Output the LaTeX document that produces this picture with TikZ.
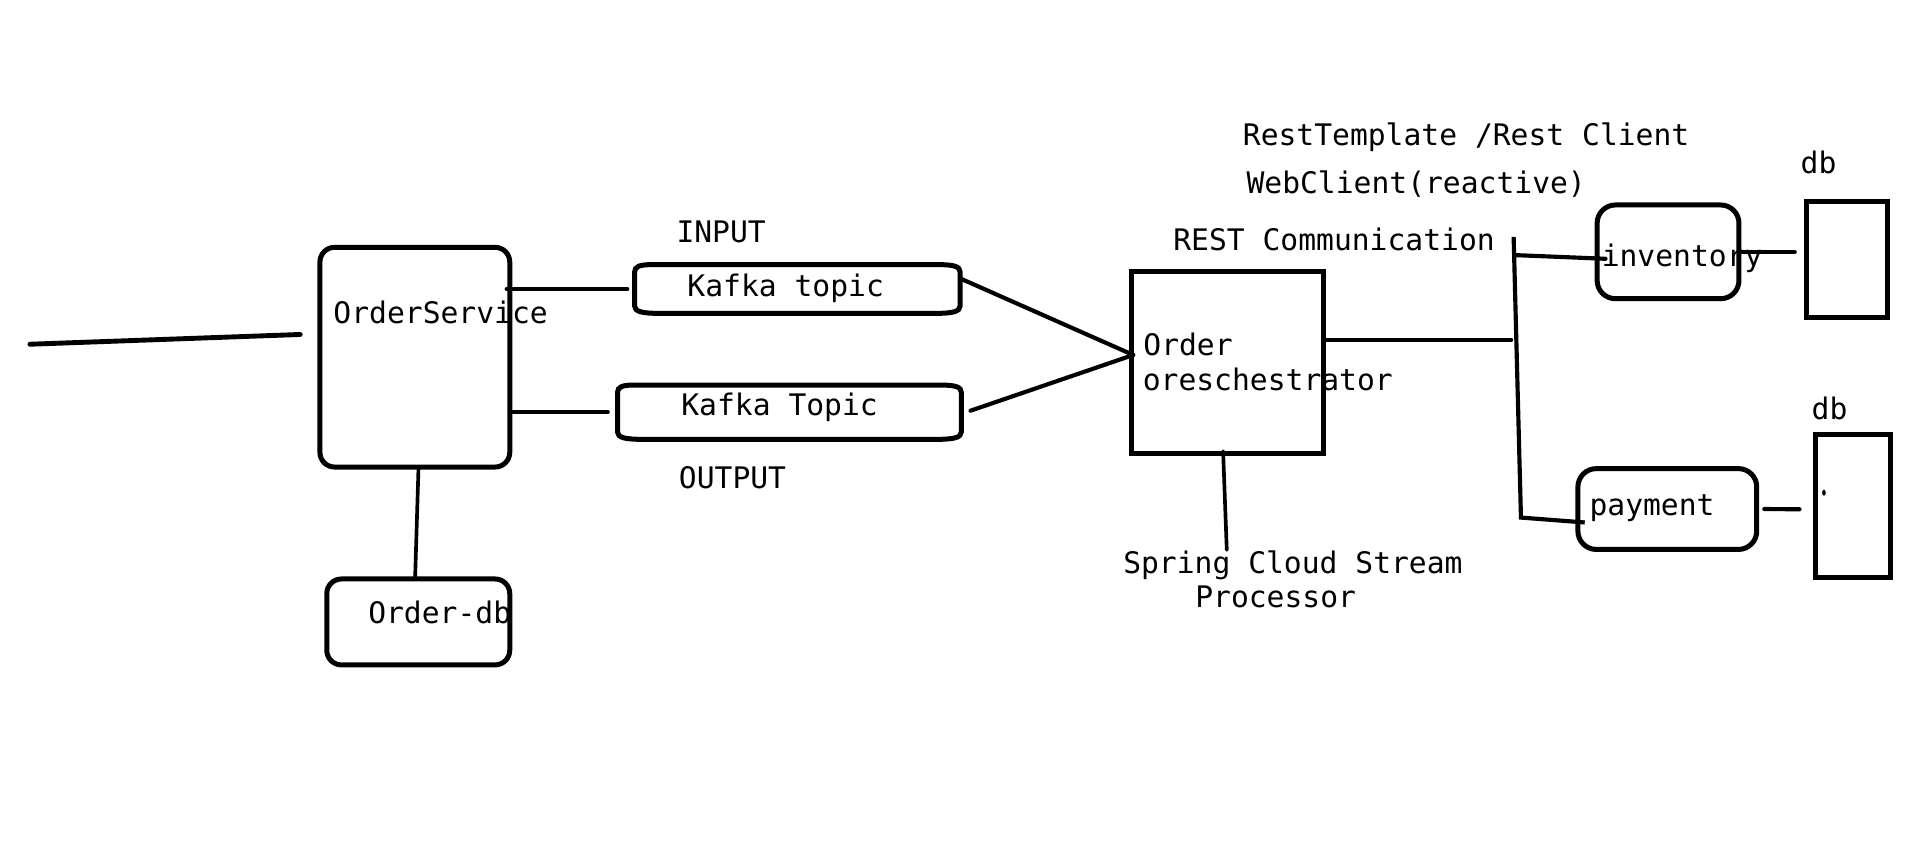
\documentclass[tikz,border=0pt]{standalone}
\usepackage{fontspec}
\newfontfamily\monofont{DejaVu Sans Mono}
\usetikzlibrary{calc}
\newcommand{\kafkaoutline}[1]{%
  \draw[line width=4.1pt]
    ([yshift=-6pt]#1.north west) .. controls ([yshift=-1.5pt]#1.north west) and ([xshift=4pt]#1.north west) .. ([xshift=14pt]#1.north west)
    -- ([xshift=-18pt]#1.north east) .. controls ([xshift=-5pt]#1.north east) and ([yshift=-1.5pt]#1.north east) .. ([yshift=-6pt]#1.north east)
    -- ([yshift=6pt]#1.south east) .. controls ([yshift=1.5pt]#1.south east) and ([xshift=-6pt]#1.south east) .. ([xshift=-20pt]#1.south east)
    -- ([xshift=20pt]#1.south west) .. controls ([xshift=6pt]#1.south west) and ([yshift=1.5pt]#1.south west) .. ([yshift=6pt]#1.south west)
    -- cycle;}
\begin{document}
\begin{tikzpicture}[x=1pt,y=-1pt,
  box/.style={draw, line width=4.1pt, outer sep=0pt, inner sep=0pt},
  rbox/.style={box, rounded corners=#1},
  rbox/.default=12pt,
  hidden/.style={outer sep=0pt, inner sep=0pt},
  txt/.style={font=\monofont\fontsize{24.3}{29}\selectfont, inner sep=0pt, anchor=base west},
  wire/.style={line width=3.4pt, line cap=round},
  thinwire/.style={line width=3pt, line cap=round}]
\fill[white] (0,0) rectangle (1568,705.3);
\useasboundingbox (0,0) rectangle (1568,705.3);

% boxes
\node[rbox, minimum width=155.5pt, minimum height=180pt] (osvc) at (339.85,292.6) {};
\node[rbox, minimum width=149.9pt, minimum height=70.4pt] (odb) at (342.65,509.5) {};
\node[hidden, minimum width=266.6pt, minimum height=39.9pt] (k1) at (653.2,236.75) {};
\kafkaoutline{k1}
\node[hidden, minimum width=281.6pt, minimum height=44.5pt] (k2) at (646.7,337.65) {};
\kafkaoutline{k2}
\node[box, minimum width=157.2pt, minimum height=149.2pt] (orch) at (1005.3,297) {};
\node[rbox=15pt, minimum width=116.2pt, minimum height=76.8pt] (inv) at (1366.5,206.3) {};
\node[rbox=15pt, minimum width=146.5pt, minimum height=66.2pt] (pay) at (1365.9,417) {};
\node[box, minimum width=66.2pt, minimum height=95.2pt] (db1) at (1513,212.5) {};
\node[box, minimum width=61.2pt, minimum height=117.2pt] (db2) at (1518,414.5) {};

% texts
\node[txt] (tRest) at (1018,119) {RestTemplate /Rest Client};
\node[txt] (tWeb) at (1021,158.5) {WebClient(reactive)};
\node[txt] (tRestC) at (961,205) {REST Communication};
\node[txt] (tIn) at (554,199) {INPUT};
\node[txt] (tOut) at (556,400) {OUTPUT};
\node[txt] (tK1) at (563,243) {Kafka topic};
\node[txt] (tK2) at (558,340) {Kafka Topic};
\node[txt] (tOS) at (273,265.4) {OrderService};
\node[txt] (tODB) at (301.5,511) {Order-db};
\node[txt] (tOrd1) at (936.5,291) {Order};
\node[txt] (tOrd2) at (936,319.5) {oreschestrator};
\node[txt] (tSp1) at (920,469.5) {Spring Cloud Stream};
\node[txt] (tSp2) at (979,498) {Processor};
\node[txt] (tInv) at (1312,218.4) {inventory};
\node[txt] (tPay) at (1302,422) {payment};
\node[txt] (tDb1) at (1475,142) {db};
\node[txt] (tDb2) at (1484,344) {db};

% coordinates
\coordinate (in1) at (24.5,282);
\coordinate (in2) at (246,274);
\coordinate (apex) at ([xshift=1.7pt,yshift=6.2pt]orch.west);
\coordinate (busTop) at (1240,194);
\coordinate (busBot) at (1246,424);
\coordinate (busMid) at (1238,278.5);
\coordinate (springTop) at (1005,450.5);

% connectors
\draw[wire, line width=4pt] (in1) -- (in2);
\draw[wire] ([xshift=-2.5pt]osvc.east |- k1.west) -- ([xshift=-6pt]k1.west);
\draw[wire] (osvc.east |- k2.west) -- ([xshift=-8pt]k2.west);
\draw[thinwire] ([xshift=3pt]osvc.south) -- ([xshift=-2.6pt]odb.north);
\draw[wire] ([yshift=8.7pt]k1.east) -- (apex);
\draw[wire] ([xshift=7.6pt,yshift=1.2pt]k2.east) -- (apex);
\draw[wire] ([yshift=18.5pt]orch.east) -- (busMid);
\draw[thinwire] ([xshift=-3.3pt,yshift=2pt]orch.south) -- (springTop);
\draw[wire, line cap=butt, line join=miter] (busTop) -- (busBot) -- ([xshift=5.6pt,yshift=-11pt]pay.west);
\draw[wire] ($(busTop)!0.065!(busBot)$) -- ([xshift=6.9pt,yshift=-5.7pt]inv.west);
\draw[wire] ([xshift=2.6pt]inv.east) -- ([xshift=-9.6pt]db1.west |- inv.east);
\draw[wire] ([xshift=6.2pt]pay.east) -- ([xshift=-13.2pt,yshift=-2.7pt]db2.west);
\fill ([xshift=6.8pt,yshift=10.9pt]db2.west) ellipse [x radius=1.5pt, y radius=2.5pt];
\end{tikzpicture}
\end{document}
